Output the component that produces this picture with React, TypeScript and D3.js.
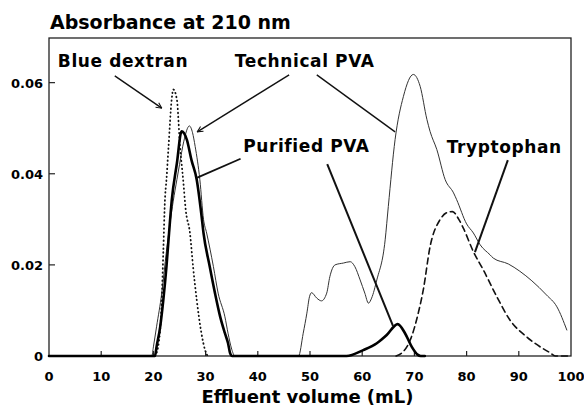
import React, { useEffect, useRef } from "react";
import * as d3 from "d3";

// effluent volume (mL) / absorbance pairs
const blueDextranX = [20.3, 20.9, 21.6, 21.9, 22.2, 22.5, 22.9, 23.5, 23.8, 24.5, 25.1, 25.7, 26.2, 27.0, 27.6, 28.3, 29.2, 29.9, 30.4];
const blueDextranY = [0, 0.002, 0.0123, 0.023, 0.034, 0.0387, 0.046, 0.0563, 0.0585, 0.0563, 0.046, 0.0387, 0.032, 0.027, 0.0196, 0.0123, 0.005, 0.0013, 0];

const technicalX = [0, 19.7, 20.0, 20.6, 21.6, 22.5, 23.8, 24.5, 25.0, 25.8, 26.9, 27.5, 28.0, 28.9, 29.6, 30.2, 31.5, 32.4, 33.7, 34.3, 35.0, 35.6, 47.8, 48.7, 49.4, 49.9, 50.3, 51.3, 52.2, 53.2, 53.8, 54.8, 56.4, 57.7, 58.6, 59.6, 60.5, 61.2, 61.8, 62.8, 64.4, 65.0, 66.3, 67.9, 69.8, 71.1, 72.4, 73.0, 74.3, 75.9, 77.5, 78.1, 80.0, 81.3, 82.6, 84.5, 85.1, 88.0, 90.2, 92.5, 95.3, 97.3, 99.2];
const technicalY = [0, 0, 0.002, 0.0064, 0.0138, 0.023, 0.034, 0.0387, 0.042, 0.047, 0.0505, 0.049, 0.046, 0.0387, 0.030, 0.027, 0.0196, 0.0138, 0.0086, 0.005, 0.0015, 0, 0, 0.005, 0.0094, 0.013, 0.0139, 0.0127, 0.0121, 0.0138, 0.0174, 0.020, 0.0204, 0.0207, 0.0196, 0.0167, 0.0138, 0.0116, 0.0127, 0.0167, 0.0255, 0.0328, 0.0475, 0.057, 0.0618, 0.0592, 0.0519, 0.0493, 0.0453, 0.0387, 0.0358, 0.0343, 0.029, 0.027, 0.0244, 0.0222, 0.0215, 0.0202, 0.0186, 0.0165, 0.0134, 0.0108, 0.0057];

const purifiedX = [0, 20.3, 20.6, 21.3, 21.9, 22.5, 23.0, 23.5, 24.5, 25.4, 26.4, 27.3, 28.3, 29.2, 29.6, 30.8, 31.8, 32.8, 33.7, 34.3, 34.7, 35.1, 57.0, 60.2, 62.8, 64.7, 66.8, 68.2, 69.5, 70.6, 71.2, 72.0];
const purifiedY = [0, 0, 0.002, 0.0064, 0.0123, 0.0196, 0.027, 0.034, 0.0423, 0.0493, 0.0475, 0.043, 0.0387, 0.031, 0.027, 0.0196, 0.0138, 0.0086, 0.005, 0.0028, 0.0006, 0, 0, 0.0013, 0.0028, 0.0046, 0.0070, 0.005, 0.002, 0.0003, 0, 0];

const tryptophanX = [66.5, 67.9, 69.2, 70.8, 71.7, 73.0, 74.9, 76.3, 77.3, 78.5, 79.4, 81.3, 83.2, 85.8, 88.3, 91.5, 94.1, 96.0, 97.0, 100];
const tryptophanY = [0, 0.001, 0.0035, 0.0097, 0.0145, 0.024, 0.0299, 0.0315, 0.0317, 0.030, 0.028, 0.0229, 0.0189, 0.013, 0.0079, 0.0042, 0.002, 0.0007, 0, 0];

const xTicks = [0, 10, 20, 30, 40, 50, 60, 70, 80, 90, 100];
const yTicks = [0, 0.02, 0.04, 0.06];
const yTickLabels = ["0", "0.02", "0.04", "0.06"];

// labels and leader lines, in data units
const labelText = ["Blue dextran", "Technical PVA", "Purified PVA", "Tryptophan"];
const labelX = [1.7, 35.6, 37.2, 76.2];
const labelY = [0.0634, 0.0634, 0.0448, 0.0446];

const leaders = [
  { x1: 12.6, y1: 0.0615, x2: 21.6, y2: 0.0544, w: 1.4, arrow: true },
  { x1: 46.0, y1: 0.0617, x2: 28.4, y2: 0.0492, w: 1.4, arrow: true },
  { x1: 51.3, y1: 0.0617, x2: 66.3, y2: 0.0492, w: 1.4, arrow: false },
  { x1: 36.7, y1: 0.0433, x2: 28.3, y2: 0.0391, w: 1.8, arrow: false },
  { x1: 53.3, y1: 0.0421, x2: 65.9, y2: 0.0066, w: 2, arrow: false },
  { x1: 87.9, y1: 0.043, x2: 81.6, y2: 0.0228, w: 2, arrow: false },
];

const FONT = "'DejaVu Sans', sans-serif";

export default function App() {
  const ref = useRef<SVGSVGElement>(null);

  useEffect(() => {
    const svg = d3.select(ref.current);
    svg.selectAll("*").remove();

    const left = 49, right = 571, top = 38, bottom = 356;
    const x = d3.scaleLinear().domain([0, 100]).range([left, right]);
    const y = d3.scaleLinear().domain([0, 0.0698]).range([bottom, top]);

    svg
      .append("defs")
      .append("marker")
      .attr("id", "arr")
      .attr("viewBox", "0 0 10 10")
      .attr("refX", 9)
      .attr("refY", 5)
      .attr("markerWidth", 5)
      .attr("markerHeight", 5)
      .attr("orient", "auto")
      .append("path")
      .attr("d", "M1,1 L9,5 L1,9")
      .attr("fill", "none")
      .attr("stroke", "#111")
      .attr("stroke-width", 1.5);

    // frame
    svg
      .append("rect")
      .attr("x", left)
      .attr("y", top)
      .attr("width", right - left)
      .attr("height", bottom - top)
      .attr("fill", "none")
      .attr("stroke", "#222")
      .attr("stroke-width", 1.3);

    // ticks (inward)
    svg
      .selectAll(".xt")
      .data(xTicks.slice(1, -1))
      .enter()
      .append("line")
      .attr("x1", (d) => x(d))
      .attr("x2", (d) => x(d))
      .attr("y1", bottom)
      .attr("y2", bottom - 5)
      .attr("stroke", "#222")
      .attr("stroke-width", 1.2);

    svg
      .selectAll(".yt")
      .data(yTicks.slice(1))
      .enter()
      .append("line")
      .attr("x1", left)
      .attr("x2", left + 6)
      .attr("y1", (d) => y(d))
      .attr("y2", (d) => y(d))
      .attr("stroke", "#222")
      .attr("stroke-width", 1.2);

    svg
      .selectAll(".xl")
      .data(xTicks)
      .enter()
      .append("text")
      .attr("x", (d) => x(d))
      .attr("y", bottom + 25)
      .attr("text-anchor", "middle")
      .attr("font-family", FONT)
      .attr("font-weight", "bold")
      .attr("font-size", 13)
      .text((d) => String(d));

    svg
      .selectAll(".yl")
      .data(yTicks)
      .enter()
      .append("text")
      .attr("x", left - 6)
      .attr("y", (d) => y(d) + 5)
      .attr("text-anchor", "end")
      .attr("font-family", FONT)
      .attr("font-weight", "bold")
      .attr("font-size", 13)
      .text((d, i) => yTickLabels[i]);

    svg
      .append("text")
      .attr("x", 50)
      .attr("y", 29)
      .attr("font-family", FONT)
      .attr("font-weight", "bold")
      .attr("font-size", 19)
      .text("Absorbance at 210 nm");

    svg
      .append("text")
      .attr("x", 307.5)
      .attr("y", 403)
      .attr("text-anchor", "middle")
      .attr("font-family", FONT)
      .attr("font-weight", "bold")
      .attr("font-size", 18)
      .text("Effluent volume (mL)");

    const line = d3
      .line<[number, number]>()
      .x((d) => x(d[0]))
      .y((d) => y(d[1]))
      .curve(d3.curveMonotoneX);

    const series = [
      { xs: technicalX, ys: technicalY, w: 1, dash: null, color: "#333" },
      { xs: tryptophanX, ys: tryptophanY, w: 1.6, dash: "6,4", color: "#111" },
      { xs: blueDextranX, ys: blueDextranY, w: 1.8, dash: "0.5,3.5", color: "#111" },
      { xs: purifiedX, ys: purifiedY, w: 2.6, dash: null, color: "#000" },
    ];

    series.forEach((s) => {
      const pts: [number, number][] = s.xs.map((v, i) => [v, s.ys[i]]);
      svg
        .append("path")
        .attr("d", line(pts))
        .attr("fill", "none")
        .attr("stroke", s.color)
        .attr("stroke-width", s.w)
        .attr("stroke-linecap", "round")
        .attr("stroke-linejoin", "round")
        .attr("stroke-dasharray", s.dash);
    });

    leaders.forEach((l) => {
      svg
        .append("line")
        .attr("x1", x(l.x1))
        .attr("y1", y(l.y1))
        .attr("x2", x(l.x2))
        .attr("y2", y(l.y2))
        .attr("stroke", "#111")
        .attr("stroke-width", l.w)
        .attr("marker-end", l.arrow ? "url(#arr)" : null);
    });

    svg
      .selectAll(".lab")
      .data(labelText)
      .enter()
      .append("text")
      .attr("x", (d, i) => x(labelX[i]))
      .attr("y", (d, i) => y(labelY[i]))
      .attr("font-family", FONT)
      .attr("font-weight", "bold")
      .attr("font-size", 17)
      .attr("letter-spacing", 0.6)
      .text((d) => d);
  }, []);

  return (
    <svg
      ref={ref}
      width={584}
      height={410}
      style={{ position: "absolute", left: 0, top: 0, background: "#fff" }}
    />
  );
}
